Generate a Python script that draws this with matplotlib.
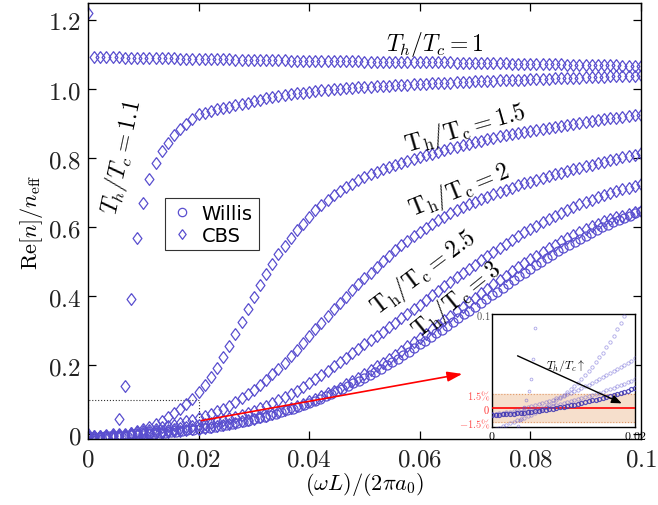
import numpy as np
import matplotlib
matplotlib.use('Agg')
import matplotlib.pyplot as plt
from matplotlib.patches import Rectangle

plt.rcParams['mathtext.fontset'] = 'cm'

# frequency grid of the CBS runs (91 samples from 0 to 0.1)
freq = np.linspace(0, 0.1, 91)
# frequency grid of the Willis curve
freq_w = np.linspace(0, 0.1, 101)

# CBS, Re[n]/n_eff for each temperature ratio
cbs_10 = [1.220,
    1.092, 1.092, 1.091, 1.091, 1.091, 1.090, 1.090, 1.090, 1.089, 1.089,
    1.089, 1.088, 1.088, 1.088, 1.087, 1.087, 1.087, 1.086, 1.086, 1.086,
    1.085, 1.085, 1.085, 1.084, 1.084, 1.084, 1.083, 1.083, 1.083, 1.082,
    1.082, 1.082, 1.081, 1.081, 1.081, 1.081, 1.080, 1.080, 1.080, 1.080,
    1.079, 1.079, 1.079, 1.079, 1.078, 1.078, 1.078, 1.078, 1.078, 1.077,
    1.077, 1.077, 1.077, 1.077, 1.076, 1.076, 1.076, 1.076, 1.076, 1.075,
    1.075, 1.075, 1.075, 1.075, 1.075, 1.074, 1.074, 1.074, 1.073, 1.073,
    1.073, 1.072, 1.072, 1.072, 1.071, 1.071, 1.071, 1.070, 1.070, 1.070,
    1.069, 1.069, 1.069, 1.068, 1.068, 1.068, 1.067, 1.067, 1.066, 1.066]
cbs_11 = [0.000,
    -0.015, -0.012, -0.008, 0.002, 0.043, 0.140, 0.390, 0.567, 0.670, 0.738,
    0.786, 0.820, 0.844, 0.865, 0.883, 0.897, 0.912, 0.926, 0.931, 0.936,
    0.940, 0.944, 0.948, 0.952, 0.956, 0.960, 0.964, 0.968, 0.972, 0.975,
    0.978, 0.981, 0.984, 0.987, 0.989, 0.991, 0.993, 0.995, 0.997, 0.999,
    1.000, 1.002, 1.003, 1.004, 1.005, 1.006, 1.007, 1.008, 1.009, 1.010,
    1.011, 1.012, 1.013, 1.014, 1.015, 1.016, 1.017, 1.017, 1.018, 1.019,
    1.020, 1.020, 1.021, 1.022, 1.022, 1.023, 1.024, 1.024, 1.025, 1.026,
    1.026, 1.027, 1.028, 1.028, 1.029, 1.030, 1.030, 1.031, 1.032, 1.032,
    1.033, 1.034, 1.034, 1.035, 1.036, 1.036, 1.037, 1.037, 1.038, 1.039]
cbs_15 = [-0.022,
    -0.020, -0.017, -0.013, -0.010, -0.006, -0.002, 0.003, 0.009, 0.015, 0.022,
    0.030, 0.039, 0.049, 0.060, 0.073, 0.087, 0.103, 0.121, 0.142, 0.166,
    0.193, 0.223, 0.256, 0.290, 0.325, 0.362, 0.398, 0.432, 0.464, 0.494,
    0.521, 0.546, 0.569, 0.590, 0.609, 0.630, 0.648, 0.664, 0.679, 0.692,
    0.704, 0.715, 0.725, 0.735, 0.744, 0.752, 0.760, 0.767, 0.774, 0.780,
    0.786, 0.791, 0.797, 0.802, 0.807, 0.812, 0.817, 0.822, 0.827, 0.832,
    0.837, 0.841, 0.846, 0.850, 0.854, 0.858, 0.862, 0.865, 0.869, 0.872,
    0.875, 0.878, 0.881, 0.884, 0.887, 0.890, 0.893, 0.896, 0.898, 0.901,
    0.904, 0.906, 0.909, 0.911, 0.914, 0.916, 0.918, 0.920, 0.923, 0.925]
cbs_20 = [-0.005,
    -0.005, -0.004, -0.003, -0.002, 0.000, 0.002, 0.004, 0.007, 0.010, 0.013,
    0.016, 0.020, 0.024, 0.028, 0.032, 0.037, 0.042, 0.047, 0.053, 0.059,
    0.066, 0.074, 0.083, 0.093, 0.104, 0.116, 0.129, 0.143, 0.158, 0.174,
    0.190, 0.207, 0.226, 0.245, 0.265, 0.285, 0.304, 0.323, 0.342, 0.361,
    0.380, 0.398, 0.416, 0.434, 0.451, 0.468, 0.485, 0.501, 0.517, 0.532,
    0.547, 0.560, 0.573, 0.585, 0.597, 0.608, 0.619, 0.629, 0.639, 0.648,
    0.657, 0.665, 0.673, 0.681, 0.688, 0.695, 0.702, 0.708, 0.714, 0.720,
    0.726, 0.731, 0.737, 0.742, 0.747, 0.752, 0.757, 0.762, 0.767, 0.771,
    0.776, 0.780, 0.785, 0.789, 0.793, 0.797, 0.801, 0.805, 0.809, 0.813]
cbs_25 = [-0.006,
    -0.006, -0.005, -0.005, -0.004, -0.003, -0.002, 0.000, 0.002, 0.004, 0.006,
    0.008, 0.010, 0.012, 0.014, 0.017, 0.020, 0.023, 0.026, 0.029, 0.033,
    0.037, 0.041, 0.046, 0.051, 0.056, 0.062, 0.068, 0.075, 0.082, 0.090,
    0.098, 0.107, 0.116, 0.126, 0.137, 0.148, 0.160, 0.172, 0.184, 0.196,
    0.208, 0.221, 0.234, 0.247, 0.260, 0.272, 0.285, 0.297, 0.310, 0.323,
    0.336, 0.349, 0.362, 0.375, 0.389, 0.402, 0.415, 0.428, 0.441, 0.454,
    0.467, 0.479, 0.491, 0.503, 0.515, 0.527, 0.539, 0.551, 0.562, 0.573,
    0.584, 0.594, 0.604, 0.614, 0.623, 0.632, 0.641, 0.649, 0.657, 0.665,
    0.672, 0.679, 0.686, 0.692, 0.698, 0.704, 0.709, 0.714, 0.719, 0.724]
cbs_30 = [-0.007,
    -0.007, -0.007, -0.006, -0.006, -0.005, -0.004, -0.003, -0.002, 0.000, 0.001,
    0.003, 0.004, 0.006, 0.008, 0.010, 0.012, 0.014, 0.016, 0.019, 0.021,
    0.024, 0.027, 0.030, 0.033, 0.037, 0.041, 0.045, 0.049, 0.054, 0.059,
    0.064, 0.069, 0.075, 0.081, 0.088, 0.095, 0.102, 0.110, 0.118, 0.126,
    0.135, 0.144, 0.154, 0.164, 0.174, 0.185, 0.196, 0.207, 0.218, 0.230,
    0.242, 0.254, 0.266, 0.279, 0.291, 0.304, 0.317, 0.330, 0.343, 0.356,
    0.369, 0.382, 0.395, 0.408, 0.421, 0.434, 0.446, 0.459, 0.471, 0.483,
    0.495, 0.506, 0.517, 0.528, 0.539, 0.549, 0.559, 0.568, 0.577, 0.586,
    0.594, 0.602, 0.609, 0.616, 0.622, 0.628, 0.633, 0.638, 0.642, 0.646]
# Willis model for T_h/T_c = 3
willis_30 = [-0.007,
    -0.007, -0.007, -0.006, -0.006, -0.005, -0.005, -0.004, -0.003, -0.002, -0.001,
    0.000, 0.001, 0.003, 0.004, 0.006, 0.007, 0.009, 0.011, 0.013, 0.015,
    0.017, 0.019, 0.022, 0.024, 0.027, 0.030, 0.033, 0.036, 0.039, 0.043,
    0.047, 0.051, 0.055, 0.059, 0.064, 0.069, 0.074, 0.079, 0.085, 0.091,
    0.097, 0.103, 0.110, 0.117, 0.124, 0.131, 0.139, 0.147, 0.155, 0.163,
    0.172, 0.181, 0.190, 0.199, 0.209, 0.219, 0.229, 0.239, 0.249, 0.260,
    0.270, 0.281, 0.292, 0.303, 0.314, 0.325, 0.336, 0.347, 0.358, 0.369,
    0.380, 0.391, 0.402, 0.413, 0.424, 0.435, 0.446, 0.457, 0.468, 0.478,
    0.489, 0.499, 0.509, 0.519, 0.529, 0.539, 0.548, 0.557, 0.566, 0.575,
    0.583, 0.591, 0.599, 0.606, 0.613, 0.620, 0.627, 0.633, 0.639, 0.645]

cbs_curves = [cbs_10, cbs_11, cbs_15, cbs_20, cbs_25, cbs_30]

# finer runs shown in the inset (0 to 0.02, step 0.0005)
ins_freq = np.linspace(0, 0.02, 41)
ins_15 = [-0.023, -0.022, -0.0205, -0.019, -0.0175, -0.016, -0.0145, -0.013,
    -0.0115, -0.010, -0.0085, -0.0068, -0.005, -0.003, -0.001, 0.001, 0.0035,
    0.006, 0.0085, 0.011, 0.014, 0.017, 0.020, 0.0235, 0.027, 0.031, 0.035,
    0.0395, 0.044, 0.049, 0.054, 0.059, 0.065, 0.071, 0.077, 0.084, 0.091,
    0.098, 0.105, 0.113, 0.121]
ins_20 = [-0.0060, -0.0057, -0.0053, -0.0048, -0.0042, -0.0035, -0.0027,
    -0.0019, -0.0010, -0.0001, 0.0009, 0.0019, 0.0030, 0.0041, 0.0053, 0.0065,
    0.0078, 0.0091, 0.0105, 0.0119, 0.0134, 0.0149, 0.0165, 0.0181, 0.0198,
    0.0215, 0.0233, 0.0251, 0.0270, 0.0289, 0.0309, 0.0329, 0.0350, 0.0371,
    0.0393, 0.0415, 0.0438, 0.0461, 0.0484, 0.0508, 0.0532]
ins_25 = [-0.0065, -0.0063, -0.0061, -0.0058, -0.0055, -0.0051, -0.0047,
    -0.0042, -0.0037, -0.0031, -0.0025, -0.0019, -0.0012, -0.0005, 0.0002,
    0.0010, 0.0018, 0.0026, 0.0035, 0.0044, 0.0053, 0.0063, 0.0073, 0.0083,
    0.0094, 0.0105, 0.0116, 0.0128, 0.0140, 0.0152, 0.0165, 0.0178, 0.0191,
    0.0205, 0.0219, 0.0233, 0.0248, 0.0263, 0.0278, 0.0294, 0.0310]
ins_30 = [-0.0070, -0.0069, -0.0068, -0.0066, -0.0064, -0.0061, -0.0058,
    -0.0055, -0.0051, -0.0047, -0.0043, -0.0038, -0.0033, -0.0028, -0.0022,
    -0.0016, -0.0010, -0.0004, 0.0003, 0.0010, 0.0017, 0.0024, 0.0032, 0.0040,
    0.0048, 0.0056, 0.0065, 0.0074, 0.0083, 0.0092, 0.0102, 0.0112, 0.0122,
    0.0132, 0.0143, 0.0154, 0.0165, 0.0176, 0.0188, 0.0200, 0.0212]
ins11_freq = [0.0036, 0.0039, 0.0042, 0.0045, 0.0048, 0.0051, 0.0054, 0.0057,
    0.0060, 0.0063]
ins_11 = [-0.019, -0.013, -0.006, 0.001, 0.009, 0.018, 0.031, 0.052, 0.085, 0.130]

xticks = [0, 0.02, 0.04, 0.06, 0.08, 0.1]
xticklabels = ['0', '0.02', '0.04', '0.06', '0.08', '0.1']
yticks = [0, 0.2, 0.4, 0.6, 0.8, 1.0, 1.2]
yticklabels = ['0', '0.2', '0.4', '0.6', '0.8', '1.0', '1.2']

# curve labels: text, x, y, rotation
curve_labels = [
    (r'$T_h/T_c = 1$', 0.0627, 1.13, 0),
    (r'$T_h/T_c = \mathit{1.1}$', 0.0062, 0.805, 78),
    (r'$\mathrm{T_h/T_c = 1.5}$', 0.0683, 0.887, 16),
    (r'$\mathrm{T_h/T_c = 2}$', 0.0672, 0.708, 22),
    (r'$\mathrm{T_h/T_c = 2.5}$', 0.0607, 0.469, 37),
    (r'$\mathrm{T_h/T_c = 3}$', 0.0667, 0.392, 39),
]

col = '#5a4fcf'
diamond = [(0, 1), (0.75, 0), (0, -1), (-0.75, 0), (0, 1)]

fig = plt.figure(figsize=(6.58, 5.06), dpi=100)
ax = fig.add_axes([0.1337, 0.130, 0.8403, 0.862])

for cv in cbs_curves:
    ax.plot(freq, cv, ls='none', marker=diamond, ms=8.5, mfc='none',
            mec=col, mew=0.9)
ax.plot(freq_w, willis_30, ls='none', marker='o', ms=6.5, mfc='none',
        mec=col, mew=0.9)

# legend
h1, = ax.plot([], [], ls='none', marker='o', ms=6, mfc='none', mec=col, mew=0.9)
h2, = ax.plot([], [], ls='none', marker=diamond, ms=7, mfc='none', mec=col, mew=0.9)
leg = ax.legend([h1, h2], ['Willis', 'CBS'], loc='lower left',
                bbox_to_anchor=(0.139, 0.433), borderaxespad=0, fontsize=14,
                fancybox=False, framealpha=1, edgecolor='#333333',
                handletextpad=0.4, handlelength=1.2, borderpad=0.3,
                labelspacing=0.15)
leg.get_frame().set_linewidth(0.8)

for txt, lx, ly, rot in curve_labels:
    ax.text(lx, ly, txt, fontsize=17, rotation=rot, ha='center', va='center',
            rotation_mode='anchor')

# zoom window and arrow to the inset
ax.add_patch(Rectangle((0, -0.015), 0.02, 0.115, fill=False, ls=':',
                       lw=0.8, ec='#333333'))
ax.annotate('', xy=(0.0682, 0.176), xytext=(0.02, 0.038),
            arrowprops=dict(arrowstyle='-|>,head_length=0.9,head_width=0.3',
                            color='red', lw=1.2))

ax.set_xlim(0, 0.1)
ax.set_ylim(-0.0145, 1.248)
ax.set_xticks(xticks)
ax.set_xticklabels(['$' + t + '$' for t in xticklabels])
ax.set_yticks(yticks)
ax.set_yticklabels(['$' + t + '$' for t in yticklabels])
ax.tick_params(direction='in', length=6, width=0.9, top=True, right=True,
               labelsize=18, labelcolor='#222222', pad=5)
for s in ax.spines.values():
    s.set_linewidth(1.0)
ax.set_xlabel(r'$(\omega L)/(2\pi a_0)$', fontsize=16, labelpad=0)
ax.set_ylabel(r'$\mathrm{Re}[n]/n_{\mathrm{eff}}$', fontsize=16, labelpad=2)

# --- inset: zoom on the low frequency region ---
ax_in = fig.add_axes([0.748, 0.154, 0.217, 0.223])
ax_in.axhspan(-0.015, 0.015, color='#f6dfcc', zorder=0)
ax_in.axhline(0.015, color='#e09a6a', ls=':', lw=0.8)
ax_in.axhline(-0.015, color='#e09a6a', ls=':', lw=0.8)
ax_in.axhline(0, color='red', lw=1.2, zorder=3)
for cv in [ins_15, ins_20, ins_25, ins_30]:
    ax_in.plot(ins_freq, cv, ls='none', marker='o', ms=2.4, mfc='none',
               mec=col, mew=0.6, alpha=0.5, zorder=4)
ax_in.plot(ins11_freq, ins_11, ls='none', marker='o', ms=2.0, mfc='none',
           mec=col, mew=0.6, alpha=0.5, zorder=4)
ax_in.plot(ins_freq, ins_30, ls='none', marker='o', ms=3.0, mfc='none',
           mec='#4038b0', mew=0.8, alpha=0.8, zorder=4)
ax_in.annotate('', xy=(0.0185, 0.004), xytext=(0.0032, 0.057),
               arrowprops=dict(arrowstyle='-|>,head_length=0.6,head_width=0.25',
                               color='black', lw=1.0), zorder=5)
ax_in.text(0.0103, 0.046, r'$T_h/T_c\uparrow$', fontsize=8.5, ha='center',
           va='center')
ax_in.set_xlim(0, 0.02)
ax_in.set_ylim(-0.02, 0.1)
ax_in.set_xticks([0, 0.02])
ax_in.set_xticklabels([r'$0$', r'$0.02$'], fontsize=8.5)
ax_in.set_yticks([-0.015, 0, 0.015, 0.1])
ax_in.set_yticklabels([r'$-1.5\%$', r'$0$', r'$1.5\%$', r'$0.1$'], fontsize=7.5)
for lab, c in zip(ax_in.get_yticklabels(), ['#ff5050', '#ff3030', '#ff5050', '#555555']):
    lab.set_color(c)
ax_in.tick_params(length=0, pad=1.5)
for s in ax_in.spines.values():
    s.set_linewidth(1.0)

fig.savefig('out.png', dpi=100)
